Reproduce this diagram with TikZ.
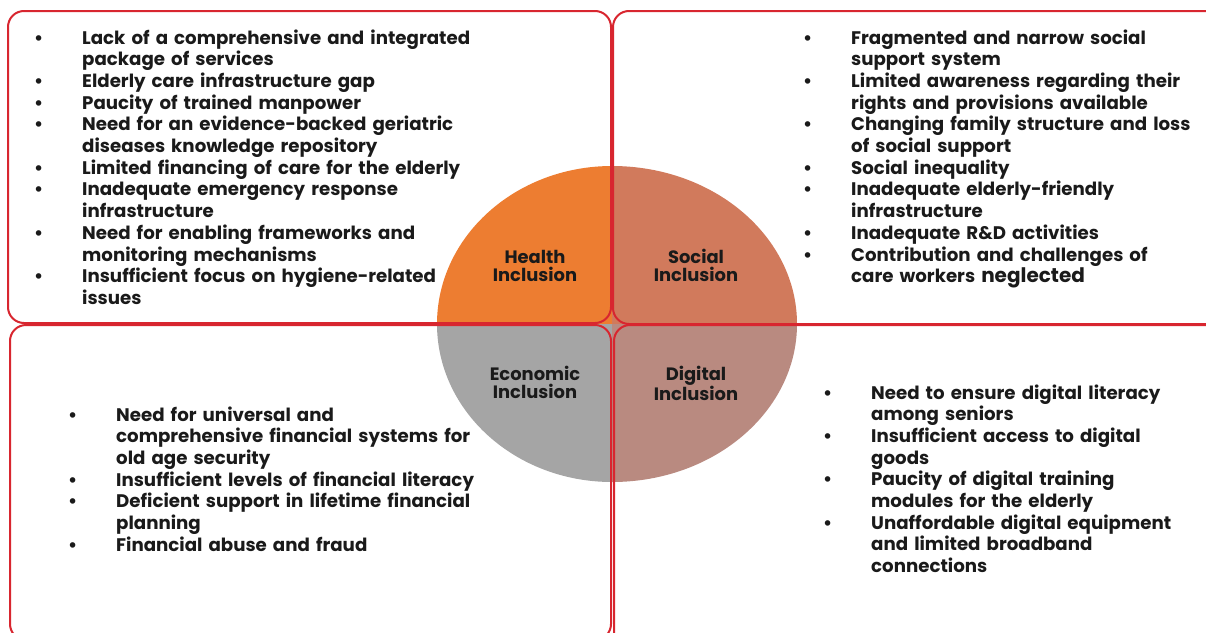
\documentclass[tikz,border=0pt]{standalone}
\usepackage{fontspec}
\setmainfont{Poppins}
\usetikzlibrary{positioning}

\definecolor{framered}{HTML}{D8262F}
\definecolor{healthorange}{HTML}{ED7D31}
\definecolor{socialsalmon}{HTML}{D17A5C}
\definecolor{econgray}{HTML}{A5A5A5}
\definecolor{digitalrose}{HTML}{B98A80}
\definecolor{inkblack}{HTML}{1A1A1A}

% one bullet point, continuation lines hang under the text
\newcommand{\bitem}[1]{\hangindent=48pt\hangafter=1\noindent\makebox[48pt][l]{\textbullet}#1\par}

\begin{document}
\begin{tikzpicture}[x=1pt,y=-1pt,
    frame/.style={draw=framered,line width=2pt,rounded corners=16pt},
    quad list/.style={anchor=base west,inner sep=0pt,text width=500pt,text=inkblack,
                      font=\bfseries\fontsize{18.2}{21.7}\selectfont},
    quad label/.style={anchor=base,inner sep=0pt,text width=120pt,align=center,text=inkblack,
                       font=\bfseries\fontsize{17.9}{18.3}\selectfont}]

  \clip (0,0) rectangle (1206,632);
  \coordinate (hub) at (612,324);

  % quarter ellipses
  \begin{scope}
    \clip (hub) rectangle (400,150);
    \fill[healthorange] (hub) ellipse [x radius=175pt,y radius=158pt];
  \end{scope}
  \begin{scope}
    \clip (hub) rectangle (820,150);
    \fill[socialsalmon] (hub) ellipse [x radius=185pt,y radius=158pt];
  \end{scope}
  \begin{scope}
    \clip (hub) rectangle (400,500);
    \fill[econgray] (hub) ellipse [x radius=175pt,y radius=158pt];
  \end{scope}
  \begin{scope}
    \clip (hub) rectangle (820,500);
    \fill[digitalrose] (hub) ellipse [x radius=185pt,y radius=158pt];
  \end{scope}

  % frames
  \draw[frame] (8,11) rectangle (611,323);
  \draw[frame] (613,11) rectangle (1240,324);
  \draw[frame] (10,325) rectangle (611,640);
  \draw[frame] (614,325) rectangle (1240,660);

  % labels
  \node[quad label] (health) at (535,263) {Health\\Inclusion};
  \node[quad label] (social) at (696,263) {Social\\Inclusion};
  \node[quad label] (economic) at (535,380) {Economic\\Inclusion};
  \node[quad label] (digital) at (696,380) {Digital\\Inclusion};

  % lists
  \node[quad list] (healthlist) at (34,44) {%
    \bitem{Lack of a comprehensive and integrated\newline package of services}
    \bitem{Elderly care infrastructure gap}
    \bitem{Paucity of trained manpower}
    \bitem{Need for an evidence-backed geriatric\newline diseases knowledge repository}
    \bitem{Limited financing of care for the elderly}
    \bitem{Inadequate emergency response\newline infrastructure}
    \bitem{Need for enabling frameworks and\newline monitoring mechanisms}
    \bitem{Insufficient focus on hygiene-related\newline issues}};

  \node[quad list] (sociallist) at (803,44) {%
    \bitem{Fragmented and narrow social\newline support system}
    \bitem{Limited awareness regarding their\newline rights and provisions available}
    \bitem{Changing family structure and loss\newline of social support}
    \bitem{Social inequality}
    \bitem{Inadequate elderly-friendly\newline infrastructure}
    \bitem{Inadequate R\&D activities}
    \bitem{Contribution and challenges of\newline care workers {\fontsize{20}{22}\selectfont neglected}}};

  \node[quad list] (econlist) at (68,421) {%
    \bitem{Need for universal and\newline comprehensive financial systems for\newline old age security}
    \bitem{Insufficient levels of financial literacy}
    \bitem{Deficient support in lifetime financial\newline planning}
    \bitem{Financial abuse and fraud}};

  \node[quad list] (digitallist) at (823,399) {%
    \bitem{Need to ensure digital literacy\newline among seniors}
    \bitem{Insufficient access to digital\newline goods}
    \bitem{Paucity of digital training\newline modules for the elderly}
    \bitem{Unaffordable digital equipment\newline and limited broadband\newline connections}};
\end{tikzpicture}
\end{document}
